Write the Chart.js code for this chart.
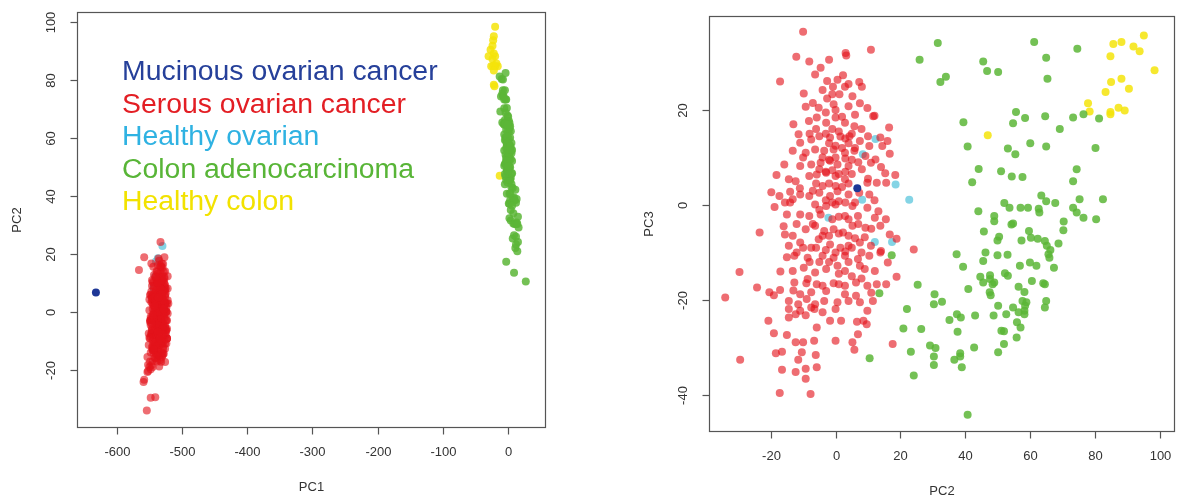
<!DOCTYPE html>
<html>
<head>
<meta charset="utf-8">
<script src="https://cdn.jsdelivr.net/npm/chart.js@4.4.1/dist/chart.umd.min.js"></script>
<style>
  body { margin: 0; background: #fff; width: 1179px; height: 498px; overflow: hidden; }
  canvas { position: absolute; top: 0; }
  #pc12 { left: 0; }
  #pc23 { left: 590px; }
</style>
</head>
<body>
<canvas id="pc12" width="590" height="498"></canvas>
<canvas id="pc23" width="589" height="498"></canvas>
<script>
// each sample: [PC1, PC2, PC3]
const mucinous = [[-632, 6.7, 3.5]]

const healthyOvarian = [
  [-530,22.7,1.1],[-537,18.5,4.3],[-540,17.4,-7.8],[-541,12.3,13.9],[-530,12.1,-7.8],
  [-544,8.4,10.7],[-543,8.2,1.1],[-544,-2.2,-2.7]
]

const healthyColon = [
  [-20,98.3,28.4],[-22,95.0,35.7],[-23,93.7,32.4],[-24,91.8,33.4],[-27,90.4,24.5],[-22,89.1,19.9],
  [-30,88.1,34.3],[-20,88.1,26.6],[-24,87.2,20.5],[-18,85.6,33.9],[-23,84.9,25.9],[-26,84.7,31.3],
  [-16,84.7,19.6],[-20,84.7,19.1],[-22,83.2,23.8],[-22,78.3,19.7],[-21,77.8,21.4],[-13,46.9,14.7]
]

const colon = [
  [4,31.5,34.1],[12,25.9,30.6],[2,32.3,25.9],[8,34.0,27.0],[-6,61.2,34.3],[0,64.9,31.0],[-8,74.5,32.9],
  [3,45.5,30.2],[-4,46.7,28.2],[0,50.1,28.0],[-9,65.3,26.6],[9,39.4,17.4],[-2,40.7,12.3],[5,44.1,7.6],
  [11,42.1,4.8],[-6,55.6,19.6],[2,54.7,17.2],[-1,58.4,18.3],[-4,64.6,18.7],[-12,69.1,16.0],[-3,73.2,18.4],
  [-8,76.4,19.1],[-13,81.2,18.2],[-8,80.1,12.0],[3,60.0,13.0],[-7,64.9,12.3],[-3,53.1,11.9],[4,55.4,10.7],
  [-5,51.0,7.1],[1,54.3,6.0],[-2,57.6,5.9],[-11,74.3,7.5],[-6,73.2,5.0],[2,63.4,2.0],[-3,64.9,0.8],
  [-1,67.7,0.4],[-9,75.2,1.2],[-4,82.4,1.2],[6,52.0,0.4],[-1,53.6,-0.6],[3,57.0,-0.6],[-5,59.3,-0.6],
  [0,62.6,-0.8],[-3,62.8,-1.6],[-5,44.0,-1.3],[2,48.9,-2.3],[-2,48.9,-3.4],[5,54.7,-3.9],[-4,54.2,-4.1],
  [-4,73.2,-0.6],[-7,74.3,-1.6],[-5,76.4,-2.7],[-10,80.3,-3.0],[-2,70.3,-3.5],[-6,70.2,-5.3],[0,45.7,-5.6],
  [-6,50.4,-6.7],[3,49.9,-7.5],[1,59.6,-5.5],[-4,60.2,-6.9],[4,62.3,-7.1],[-2,57.3,-7.5],[-1,64.5,-7.6],
  [2,65.1,-8.6],[-5,66.2,-9.5],[-2,65.6,-10.4],[1,65.9,-11.1],[-4,68.7,-8.1],[4,46.2,-10.0],[-1,49.9,-10.6],
  [1,53.0,-10.5],[-3,45.5,-11.8],[2,37.3,-10.4],[7,39.3,-13.0],[-1,44.6,-15.1],[3,45.5,-16.3],[0,47.6,-14.8],
  [5,47.6,-15.6],[-2,48.4,-16.7],[1,48.9,-16.3],[-3,52.2,-14.4],[2,53.1,-14.9],[0,56.8,-12.8],[-3,59.9,-12.1],
  [1,61.9,-12.8],[-2,60.5,-16.0],[3,64.0,-16.5],[-6,64.5,-16.7],[0,67.3,-13.2],[4,56.4,-17.2],[-1,58.2,-18.3],
  [-5,47.5,-18.4],[6,47.8,-19.0],[3,40.9,-17.7],[2,57.6,-20.2],[-3,58.8,-20.5],[0,58.4,-21.2],[5,58.2,-22.3],
  [-2,58.2,-23.0],[1,54.7,-21.6],[-4,64.9,-20.2],[-1,64.5,-21.6],[2,50.1,-21.2],[-1,48.7,-23.3],[4,52.6,-23.0],
  [-3,56.4,-22.6],[0,55.9,-24.7],[3,57.0,-25.8],[-4,51.1,-26.5],[1,51.9,-26.6],[6,55.8,-27.9],[-2,51.9,-29.3],
  [0,50.1,-31.0],[5,43.0,-23.3],[1,37.4,-23.0],[9,38.6,-23.7],[4,35.1,-24.2],[12,37.6,-26.7],[7,42.7,-30.0],
  [3,38.4,-31.2],[10,38.4,-31.9],[6,36.6,-32.6],[13,38.9,-34.2],[2,40.7,-44.2],[8,30.5,-18.8],[12,30.3,-20.9],
  [15,32.8,-20.4],[7,25.3,-16.8],[11,22.0,-21.9],[14,20.9,-26.0],[9,26.4,-26.1],[16,29.1,-29.6],[13,30.8,-30.1],
  [10,30.3,-31.9],[14,30.3,-33.7],[12,23.2,-30.9],[15,24.1,-35.9],[27,10.5,-32.3],[9,13.5,-18.6],[-3,17.3,-10.6]
]

const serous = [
  [-536,-10.0,36.5],[-542,-12.1,31.2],[-528,-8.1,30.2],[-533,-2.0,30.6],[-525,3.1,32.0],[-547,3.3,31.5],
  [-530,10.9,32.7],[-539,-4.6,28.9],[-524,-6.3,27.5],[-544,2.3,27.3],[-531,-2.6,26.1],[-527,0.6,26.4],
  [-549,-17.1,26.0],[-535,7.3,25.9],[-522,8.1,24.9],[-545,-9.8,23.5],[-529,-4.0,24.2],[-538,-0.8,24.9],
  [-526,2.9,24.9],[-541,-2.6,22.4],[-533,1.2,23.3],[-546,5.2,22.9],[-523,-9.2,20.7],[-537,-5.2,20.5],
  [-530,-0.6,21.2],[-543,4.0,20.8],[-527,7.5,21.4],[-535,9.8,20.4],[-532,11.6,18.7],[-551,-11.4,14.9],
  [-540,-8.2,17.7],[-525,-5.8,18.4],[-548,-2.9,17.3],[-534,0.0,18.4],[-521,2.9,17.3],[-544,5.8,16.6],
  [-529,16.5,16.3],[-538,13.8,14.2],[-526,-10.9,13.1],[-546,-7.5,13.8],[-531,-5.0,14.5],[-539,-1.7,14.2],
  [-524,1.5,14.4],[-550,4.3,14.5],[-536,7.5,13.5],[-528,10.4,12.4],[-566,14.4,12.4],[-531,16.7,10.8],
  [-537,-13.2,11.4],[-523,-9.2,11.0],[-545,-6.3,11.7],[-532,-3.5,11.4],[-540,-0.6,11.7],[-527,2.9,11.0],
  [-549,5.8,11.4],[-534,9.2,10.3],[-522,12.3,9.6],[-542,-15.8,8.5],[-530,-10.9,8.2],[-547,-7.5,8.5],
  [-526,-4.6,8.9],[-538,-1.7,9.3],[-533,0.6,8.5],[-544,4.0,8.2],[-525,8.1,7.5],[-539,10.9,8.9],
  [-530,15.3,6.7],[-536,18.4,6.3],[-552,-18.2,6.3],[-528,-14.4,5.4],[-541,-12.3,5.0],[-535,-8.1,6.1],
  [-523,-5.8,6.4],[-546,-2.9,6.8],[-531,0.0,6.1],[-538,2.9,5.4],[-527,9.8,4.7],[-543,12.7,4.7],
  [-533,15.6,4.7],[-548,-19.8,2.7],[-526,-17.3,1.9],[-537,-10.9,2.2],[-544,-8.1,1.9],[-529,-5.0,2.6],
  [-534,-1.7,1.9],[-550,0.6,2.9],[-522,4.0,2.2],[-540,7.3,2.6],[-531,10.4,2.2],[-545,-13.2,1.2],
  [-535,-18.8,-0.4],[-553,-15.6,0.5],[-528,-6.3,0.1],[-539,-2.9,-0.2],[-524,0.0,0.1],[-546,5.2,-0.2],
  [-532,9.8,-0.6],[-537,13.2,-1.3],[-530,-15.0,-2.0],[-543,-10.9,-2.0],[-525,-8.1,-2.3],[-548,-4.6,-2.0],
  [-534,2.9,-2.3],[-527,6.9,-2.3],[-541,12.1,-2.7],[-558,-23.4,-5.8],[-531,-15.6,-6.2],[-545,-13.2,-6.5],
  [-523,-9.2,-5.1],[-538,-6.3,-4.4],[-549,-3.5,-5.5],[-529,-0.6,-5.1],[-536,2.3,-5.8],[-542,5.2,-4.4],
  [-526,9.2,-4.8],[-533,13.8,-4.4],[-547,16.7,-6.2],[-558,18.8,-7.1],[-540,-14.4,-8.6],[-524,-10.9,-7.9],
  [-551,-7.5,-9.0],[-533,-5.2,-7.2],[-544,-1.7,-8.3],[-527,1.5,-9.0],[-538,4.0,-8.6],[-531,7.5,-7.9],
  [-546,10.9,-8.6],[-533,24.1,-9.4],[-526,-12.7,-10.7],[-548,-8.6,-11.1],[-535,-4.0,-10.7],[-522,-0.6,-11.1],
  [-541,2.9,-10.7],[-530,6.9,-11.4],[-545,10.4,-10.7],[-528,13.8,-10.0],[-537,16.1,-12.1],[-543,-13.2,-13.9],
  [-532,-9.8,-13.2],[-525,-6.3,-14.2],[-549,-2.9,-13.5],[-536,0.6,-12.8],[-523,2.9,-13.9],[-540,7.5,-12.8],
  [-534,12.1,-13.9],[-527,18.8,-15.1],[-548,-29.6,-14.1],[-538,-12.7,-16.3],[-529,-8.6,-15.6],[-546,-5.8,-16.7],
  [-533,-0.6,-16.5],[-541,2.9,-17.0],[-525,6.3,-16.3],[-537,9.8,-17.0],[-530,12.7,-16.7],[-544,15.6,-16.7],
  [-559,-24.2,-17.4],[-554,-34.0,-19.5],[-552,-20.4,-18.4],[-545,-19.0,-19.0],[-538,-17.1,-17.9],[-531,-10.9,-18.8],
  [-547,-7.5,-18.4],[-524,-2.9,-18.1],[-539,2.9,-18.8],[-533,6.3,-19.1],[-527,11.5,-20.2],[-543,-14.4,-20.2],
  [-535,-11.5,-20.9],[-550,-8.9,-19.8],[-528,-6.3,-20.9],[-540,-3.5,-20.2],[-532,0.6,-20.5],[-546,4.0,-20.2],
  [-526,7.5,-20.5],[-537,-14.4,-21.9],[-530,-10.9,-22.3],[-545,-7.5,-21.6],[-533,-6.5,-21.9],[-541,-4.0,-22.6],
  [-525,0.0,-21.9],[-538,9.8,-22.3],[-553,-20.7,-24.4],[-529,-14.4,-23.7],[-544,-12.3,-23.0],[-536,-9.2,-23.2],
  [-548,-1.7,-24.4],[-531,1.7,-24.4],[-540,6.6,-24.6],[-527,8.6,-24.4],[-535,9.6,-25.1],[-542,-5.8,-25.8],
  [-550,-19.0,-27.0],[-538,-15.0,-27.4],[-532,6.9,-27.2],[-546,-12.3,-28.9],[-528,-10.0,-28.9],[-537,-6.6,-28.6],
  [-543,0.0,-28.6],[-530,5.2,-28.9],[-535,17.6,-29.3],[-547,-18.4,-31.2],[-533,-16.5,-30.9],[-540,-10.4,-31.0],
  [-526,5.8,-30.5],[-545,-11.5,-32.6],[-531,-6.1,-31.6],[-541,-29.4,-32.6],[-538,-16.5,-34.7],[-549,-9.2,-34.5],
  [-529,-5.8,-34.2],[-536,-12.3,-35.2],[-544,-9.2,-36.6],[-532,-17.2,-39.6],[-539,-7.7,-39.8],
  // dense core
  [-534,-3,15],[-541,-1,16],[-528,1,15.5],[-545,3,14],[-531,5,15],[-537,-2,13],[-524,0,12.5],[-543,2,12],
  [-530,4,13],[-548,6,12],[-535,-4,10],[-527,-2,9.5],[-540,0,10],[-533,3,9.8],[-546,5,9.5],[-529,7,9],
  [-538,-5,7.5],[-523,-3,7],[-544,-1,7.3],[-532,1,6.5],[-539,3,7],[-526,5,6.5],[-542,-6,4.5],[-530,-4,4],
  [-547,-2,4.5],[-535,0,4],[-528,2,3.8],[-541,4,4.5],[-533,-7,3],[-545,-3,1],[-527,-1,0.5],[-538,1,0.8],
  [-531,3,0.5],[-544,6,0.5],[-536,-5,-1],[-529,-1,-3],[-542,1,-2.5],[-534,4,-3],[-547,7,-4],[-525,-7,-4],
  [-539,-4,-6.5],[-532,-2,-6.5],[-545,1,-6],[-528,4,-6.5],[-537,6,-7],[-543,9,-6.8],[-530,-6,-9],[-548,-3,-9.5],
  [-535,0,-10],[-526,3,-9.8],[-541,5,-9],[-533,8,-10],[-539,-8,-12],[-527,-5,-12],[-544,-2,-12],[-531,1,-14.5],
  [-538,4,-12],[-546,9,-13.5],[-534,-10,-9],[-529,-12,-4],[-542,-11,3.5],[-536,-10,10],[-530,-8,15],[-544,10,5.5],
  [-527,12,1],[-539,11,-5],[-533,8,16],[-546,-6,16],[-538,0,20],[-525,-3,19.5],[-542,2,18.6],[-531,6,19],
  [-537,-7,21.5],[-545,-1,23.3],[-529,4,25.5],[-540,-12,-10],[-534,-9,-16.5],[-547,-4,-17],[-528,1,-16.7],
  [-536,5,-15],[-543,8,-15.5],[-530,11,-18.5],[-539,14,-9.7],[-532,15.5,-3],[-548,-14,0.5],[-541,-16,-4.5],
  [-535,-15,-11],[-545,-17,-14],[-529,-13,-18],[-537,10,14.5],[-526,14,8],[-540,12,18.8],[-533,16,13.5],
  [-544,-13,17],[-531,-14,2.8]
]

const groupNames = ['Mucinous ovarian cancer', 'Serous ovarian cancer', 'Healthy ovarian', 'Colon adenocarcinoma', 'Healthy colon']
const groupText = ['#26409a', '#e31e24', '#2fb2e2', '#58b537', '#f2e200']
const groupFill = ['rgba(30,55,150,1)', 'rgba(228,20,28,0.62)', 'rgba(110,205,225,0.85)', 'rgba(92,182,55,0.85)', 'rgba(245,228,10,0.85)']
const groups = [mucinous, serous, healthyOvarian, colon, healthyColon]

const ticksPC1 = [-600, -500, -400, -300, -200, -100, 0]
const ticksPC2 = [-20, 0, 20, 40, 60, 80, 100]
const ticksPC3 = [-40, -20, 0, 20]

const FONT = "'Liberation Sans', Arial, sans-serif"

// R style box, ticks and rotated labels
function rAxes(xTicks, yTicks, xTitle, yTitle, withLegend) {
  return {
    id: 'rAxes',
    afterDraw(chart) {
      const ctx = chart.ctx
      const a = chart.chartArea
      const sx = chart.scales.x, sy = chart.scales.y
      const L = Math.round(a.left) + 0.5, R = Math.round(a.right) - 0.5
      const T = Math.round(a.top) + 0.5, B = Math.round(a.bottom) + 0.5
      ctx.save()
      ctx.strokeStyle = '#555'
      ctx.lineWidth = 1.2
      ctx.strokeRect(L, T, R - L, B - T)
      ctx.fillStyle = '#333'
      ctx.font = '13px ' + FONT
      ctx.textAlign = 'center'
      ctx.textBaseline = 'middle'
      xTicks.forEach(v => {
        const px = Math.round(sx.getPixelForValue(v)) + 0.5
        ctx.beginPath(); ctx.moveTo(px, B); ctx.lineTo(px, B + 7); ctx.stroke()
        ctx.fillText(String(v), px, B + 25)
      })
      yTicks.forEach(v => {
        const py = Math.round(sy.getPixelForValue(v)) + 0.5
        ctx.beginPath(); ctx.moveTo(L, py); ctx.lineTo(L - 7, py); ctx.stroke()
        ctx.save()
        ctx.translate(L - 26, py)
        ctx.rotate(-Math.PI / 2)
        ctx.fillText(String(v), 0, 0)
        ctx.restore()
      })
      ctx.fillText(xTitle, (L + R) / 2, B + 60)
      ctx.save()
      ctx.translate(L - 60, (T + B) / 2)
      ctx.rotate(-Math.PI / 2)
      ctx.fillText(yTitle, 0, 0)
      ctx.restore()

      if (withLegend) {
        ctx.font = '28.4px ' + FONT
        ctx.textAlign = 'left'
        groupNames.forEach((name, i) => {
          ctx.fillStyle = groupText[i]
          ctx.fillText(name, 122, 72.5 + i * 32.5)
        })
      }
      ctx.restore()
    }
  }
}

function makeDatasets(xi, yi) {
  return groups.map((g, i) => ({
    label: groupNames[i],
    data: g.map(p => ({ x: p[xi], y: p[yi] })),
    backgroundColor: groupFill[i],
    borderWidth: 0,
    pointRadius: 4,
    pointHoverRadius: 4
  }))
}

function makeChart(id, xi, yi, xr, yr, box, plugin) {
  const canvas = document.getElementById(id)
  return new Chart(canvas.getContext('2d'), {
    type: 'scatter',
    data: { datasets: makeDatasets(xi, yi) },
    options: {
      responsive: false,
      animation: false,
      devicePixelRatio: 1,
      layout: { padding: { left: 0, top: box.top, right: canvas.width - box.right, bottom: 0 } },
      plugins: { legend: { display: false }, tooltip: { enabled: false } },
      scales: {
        x: {
          type: 'linear', min: xr[0], max: xr[1],
          ticks: { display: false }, grid: { display: false }, border: { display: false },
          afterFit: s => { s.height = canvas.height - box.bottom }
        },
        y: {
          type: 'linear', min: yr[0], max: yr[1],
          ticks: { display: false }, grid: { display: false }, border: { display: false },
          afterFit: s => { s.width = box.left }
        }
      }
    },
    plugins: [plugin]
  })
}

makeChart('pc12', 0, 1, [-661, 58], [-39.7, 103.4],
  { left: 77, right: 546, top: 12, bottom: 427 },
  rAxes(ticksPC1, ticksPC2, 'PC1', 'PC2', true))

makeChart('pc23', 1, 2, [-39, 104.6], [-47.6, 39.8],
  { left: 119, right: 588, top: 16, bottom: 431 },
  rAxes(ticksPC2, ticksPC3, 'PC2', 'PC3', false))
</script>
</body>
</html>
